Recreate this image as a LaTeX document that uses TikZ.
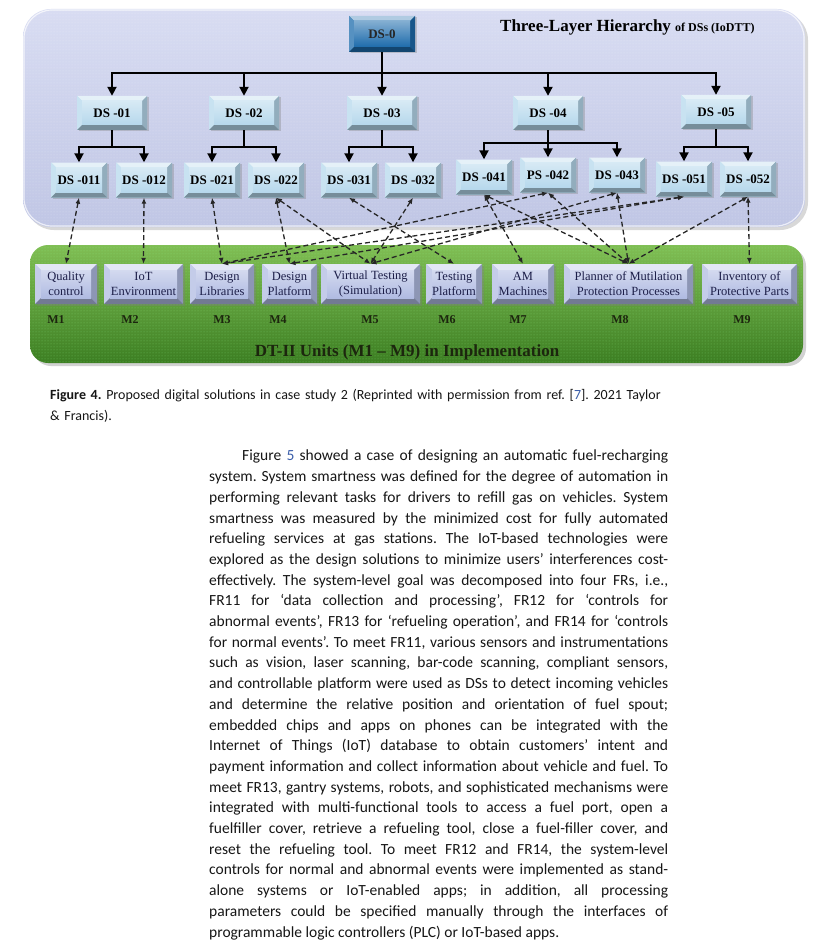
\documentclass[tikz,border=0pt]{standalone}
\usepackage{fontspec}
\setmainfont{Liberation Serif}
\newfontfamily\calib{Carlito}
\usetikzlibrary{arrows.meta,shadows,patterns}
\definecolor{panelTop}{RGB}{216,220,242}
\definecolor{panelBot}{RGB}{192,198,229}
\definecolor{dsBlue}{RGB}{182,216,236}
\definecolor{dsDark}{RGB}{30,108,172}
\definecolor{mBox}{RGB}{176,187,226}
\definecolor{grTop}{RGB}{128,190,84}
\definecolor{grBot}{RGB}{60,126,34}
\definecolor{mText}{RGB}{28,30,72}
\definecolor{mLab}{RGB}{28,38,14}
\definecolor{linkblue}{RGB}{60,95,170}
\definecolor{bodytext}{RGB}{22,22,22}
\tikzset{
  bvdepth/.store in=\bvd, bvdepth=5,
  bevel/.style={fill=#1, draw=none,
    drop shadow={shadow xshift=1.5pt,shadow yshift=-1.5pt,opacity=0.35},
    path picture={
      \coordinate (bva) at (path picture bounding box.north west);
      \coordinate (bvb) at (path picture bounding box.north east);
      \coordinate (bvc) at (path picture bounding box.south east);
      \coordinate (bvd) at (path picture bounding box.south west);
      \coordinate (bvA) at ([shift={(\bvd,\bvd)}]bva);
      \coordinate (bvB) at ([shift={(-\bvd,\bvd)}]bvb);
      \coordinate (bvC) at ([shift={(-\bvd,-\bvd)}]bvc);
      \coordinate (bvD) at ([shift={(\bvd,-\bvd)}]bvd);
      \fill[#1!35!white] (bva) -- (bvb) -- (bvB) -- (bvA) -- cycle;
      \fill[#1!75!white] (bva) -- (bvA) -- (bvD) -- (bvd) -- cycle;
      \fill[#1!80!black] (bvb) -- (bvc) -- (bvC) -- (bvB) -- cycle;
      \fill[#1!65!black] (bvd) -- (bvD) -- (bvC) -- (bvc) -- cycle;
      \shade[top color=#1!55!white, bottom color=#1] (bvA) rectangle (bvC);
    }},
  dsbox/.style={bevel=dsBlue, inner sep=1pt, font=\bfseries\fontsize{13}{15}\selectfont},
  dsA/.style={dsbox, minimum width=70pt, minimum height=34pt},
  dsB/.style={dsbox, minimum width=56pt, minimum height=35pt},
  mbox/.style={bevel=mBox, bvdepth=6, inner sep=1pt, align=center, text=mText,
    minimum height=40pt, font=\fontsize{12.5}{15}\selectfont},
  mlab/.style={text=mLab, font=\bfseries\fontsize{12}{14}\selectfont},
  tree/.style={line width=2pt, black},
  treearr/.style={tree, -{Triangle[length=9pt,width=9pt]}},
  conn/.style={line width=1.3pt, dash pattern=on 5pt off 3pt, black!85,
    {Latex[length=6pt,width=5pt]}-{Latex[length=6pt,width=5pt]}},
}
\begin{document}
\begin{tikzpicture}[x=1pt,y=-1pt]
\useasboundingbox (0,0) rectangle (816,947);
\fill[white] (0,0) rectangle (816,947);
% panels
\path[rounded corners=28pt, top color=panelTop, bottom color=panelBot,
  drop shadow={shadow xshift=3pt,shadow yshift=-3pt,opacity=0.3}] (23,9) rectangle (805,227);
\fill[rounded corners=28pt, pattern=dots, pattern color=white, opacity=0.35] (23,9) rectangle (805,227);
\draw[rounded corners=28pt, white, line width=1.2pt, opacity=0.7] (24,10) rectangle (804,226);
\path[rounded corners=18pt, top color=grTop, bottom color=grBot,
  drop shadow={shadow xshift=3pt,shadow yshift=-3pt,opacity=0.35}] (30,245) rectangle (803,363);
\fill[rounded corners=18pt, pattern=dots, pattern color=green!40!white, opacity=0.45] (30,245) rectangle (803,363);
% title
\node[anchor=west, inner sep=0] (title) at (500,27)
  {\bfseries\fontsize{17}{20}\selectfont Three-Layer Hierarchy\ {\fontsize{12}{14}\selectfont of DSs (IoDTT)}};
% DS nodes
\node[bevel=dsDark, inner sep=1pt, minimum width=66pt, minimum height=36pt,
  font=\bfseries\fontsize{13}{15}\selectfont, text=black!85] (ds0) at (382,34) {DS-0};
\node[dsA] (ds01) at (112,113) {DS -01};
\node[dsA] (ds02) at (244,113) {DS -02};
\node[dsA] (ds03) at (382,113) {DS -03};
\node[dsA] (ds04) at (548,113) {DS -04};
\node[dsA] (ds05) at (716,112) {DS -05};
\node[dsB] (d011) at (79,180) {DS -011};
\node[dsB] (d012) at (144,180) {DS -012};
\node[dsB] (d021) at (212,180) {DS -021};
\node[dsB] (d022) at (276,180) {DS -022};
\node[dsB] (d031) at (349,180) {DS -031};
\node[dsB] (d032) at (413,180) {DS -032};
\node[dsB] (d041) at (484,177) {DS -041};
\node[dsB] (p042) at (548,175) {PS -042};
\node[dsB] (d043) at (617,175) {DS -043};
\node[dsB] (d051) at (684,179) {DS -051};
\node[dsB] (d052) at (748,179) {DS -052};
% tree
\coordinate (j0) at (382,73);
\draw[tree] (ds0.south) -- (j0);
\foreach \c in {ds01,ds02,ds03,ds04,ds05} \draw[treearr] (j0) -| (\c.north);
\coordinate (j1) at (112,147);
\coordinate (j2) at (244,147);
\coordinate (j3) at (382,147);
\coordinate (j4) at (548,143);
\coordinate (j5) at (716,147);
\draw[tree] (ds01.south) -- (j1);
\draw[tree] (ds02.south) -- (j2);
\draw[tree] (ds03.south) -- (j3);
\draw[tree] (ds04.south) -- (j4);
\draw[tree] (ds05.south) -- (j5);
\foreach \c in {d011,d012} \draw[treearr] (j1) -| (\c.north);
\foreach \c in {d021,d022} \draw[treearr] (j2) -| (\c.north);
\foreach \c in {d031,d032} \draw[treearr] (j3) -| (\c.north);
\foreach \c in {d041,p042,d043} \draw[treearr] (j4) -| (\c.north);
\foreach \c in {d051,d052} \draw[treearr] (j5) -| (\c.north);
% M boxes
\node[mbox, minimum width=62pt] (m1) at (66,284) {Quality\\control};
\node[mbox, minimum width=79pt] (m2) at (143.5,284) {IoT\\Environment};
\node[mbox, minimum width=64pt] (m3) at (222,284) {Design\\Libraries};
\node[mbox, minimum width=55pt] (m4) at (289.5,284) {Design\\Platform};
\node[mbox, minimum width=99pt] (m5) at (370.5,284) {Virtual Testing\\(Simulation)};
\node[mbox, minimum width=56pt] (m6) at (454,284) {Testing\\Platform};
\node[mbox, minimum width=62pt] (m7) at (523,284) {AM\\Machines};
\node[mbox, minimum width=129pt] (m8) at (628.5,284) {Planner of Mutilation\\Protection Processes};
\node[mbox, minimum width=95pt] (m9) at (749.5,284) {Inventory of\\Protective Parts};
\node[mlab] (l1) at (56,320) {M1};
\node[mlab] (l2) at (130,320) {M2};
\node[mlab] (l3) at (222,320) {M3};
\node[mlab] (l4) at (278,320) {M4};
\node[mlab] (l5) at (370,320) {M5};
\node[mlab] (l6) at (447,320) {M6};
\node[mlab] (l7) at (518,320) {M7};
\node[mlab] (l8) at (620,320) {M8};
\node[mlab] (l9) at (742,320) {M9};
\node[text=mLab, font=\bfseries\fontsize{17}{20}\selectfont] (unitlab) at (407,352)
  {DT-II Units (M1 -- M9) in Implementation};
% connectors
\draw[conn] (d011.south) -- (m1.north);
\draw[conn] (d012.south) -- (m2.north);
\draw[conn] (d021.south) -- (m3.north);
\draw[conn] (d022.south) -- (m4.north);
\draw[conn] (d022.south) -- (m5.north);
\draw[conn] (d031.south) -- (m6.north);
\draw[conn] (d032.south) -- (m5.north);
\draw[conn] (d041.south) -- (m7.north);
\draw[conn] (d041.south) -- (m8.north);
\draw[conn] (p042.south) -- (m8.north);
\draw[conn] (d043.south) -- (m8.north);
\draw[conn] (d052.south) -- (m8.north);
\draw[conn] (d052.south) -- (m9.north);
\draw[conn] (p042.south) -- (m3.north);
\draw[conn] (d043.south) -- (m5.north);
\draw[conn] (d051.south) -- (m4.north);
\draw[conn] (d051.south) -- (m3.north);
% caption
\node[anchor=north west, inner sep=0, text width=640pt, align=left, text=bodytext,
  font=\calib\fontsize{14}{21.5}\selectfont\frenchspacing] (cap) at (50,389)
  {{\bfseries Figure 4.} Proposed digital solutions in case study 2 (Reprinted with permission from ref. [{\color{linkblue}7}]. 2021 Taylor\\ \& Francis).};
% body paragraph
\node[anchor=north west, inner sep=0, text width=459pt, align=justify, text=bodytext,
  font=\calib\fontsize{15.5}{20.7}\selectfont\frenchspacing] (body) at (209,450)
  {\hspace*{33pt}Figure {\color{linkblue}5} showed a case of designing an automatic fuel-recharging\linebreak
system. System smartness was defined for the degree of automation in\linebreak
performing relevant tasks for drivers to refill gas on vehicles. System\linebreak
smartness was measured by the minimized cost for fully automated\linebreak
refueling services at gas stations. The IoT-based technologies were\linebreak
explored as the design solutions to minimize users’ interferences cost-\linebreak
effectively. The system-level goal was decomposed into four FRs, i.e.,\linebreak
FR11 for ‘data collection and processing’, FR12 for ‘controls for\linebreak
abnormal events’, FR13 for ‘refueling operation’, and FR14 for ‘controls\linebreak
for normal events’. To meet FR11, various sensors and instrumentations\linebreak
such as vision, laser scanning, bar-code scanning, compliant sensors,\linebreak
and controllable platform were used as DSs to detect incoming vehicles\linebreak
and determine the relative position and orientation of fuel spout;\linebreak
embedded chips and apps on phones can be integrated with the\linebreak
Internet of Things (IoT) database to obtain customers’ intent and\linebreak
payment information and collect information about vehicle and fuel. To\linebreak
meet FR13, gantry systems, robots, and sophisticated mechanisms were\linebreak
integrated with multi-functional tools to access a fuel port, open a\linebreak
fuelfiller cover, retrieve a refueling tool, close a fuel-filler cover, and\linebreak
reset the refueling tool. To meet FR12 and FR14, the system-level\linebreak
controls for normal and abnormal events were implemented as stand-\linebreak
alone systems or IoT-enabled apps; in addition, all processing\linebreak
parameters could be specified manually through the interfaces of\linebreak
programmable logic controllers (PLC) or IoT-based apps.};
\end{tikzpicture}
\end{document}
